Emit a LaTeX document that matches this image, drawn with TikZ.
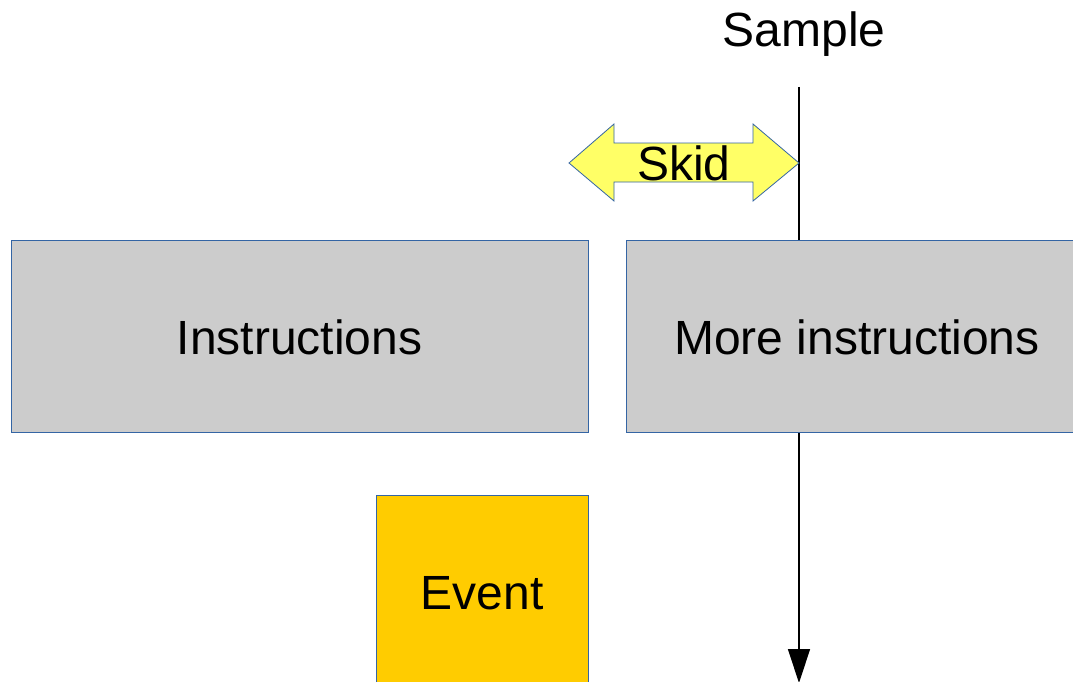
\documentclass[tikz,border=0pt]{standalone}
\usepackage{fontspec}
\setmainfont{Liberation Sans}
\usetikzlibrary{arrows.meta}
\definecolor{edgeblue}{HTML}{3465A4}
\definecolor{boxgrey}{HTML}{CCCCCC}
\definecolor{eventgold}{HTML}{FFCC00}
\definecolor{skidyellow}{HTML}{FFFF66}
\tikzset{
  lbl/.style={font=\fontsize{48}{57}\selectfont, text=black, inner sep=0pt},
  blockbox/.style={draw=edgeblue, line width=0.8pt, fill=boxgrey},
  eventbox/.style={draw=edgeblue, line width=0.8pt, fill=eventgold},
  timeline/.style={draw=black, line width=1.3pt, -{Triangle[length=34pt,width=22pt]}},
  skidshape/.style={draw=edgeblue, line width=0.8pt, fill=skidyellow, line join=miter}
}
\begin{document}
\begin{tikzpicture}[x=1pt, y=-1pt]
\clip (0,0) rectangle (1073,682);
\fill[white] (0,0) rectangle (1073,682);

% sampling time line (behind the blocks)
\coordinate (sTop) at (799,87);
\coordinate (sBot) at (799,683);
\draw[timeline] (sTop) -- (sBot);
\node[lbl] (sample) at (804,34) {Sample};

% skid double arrow
\draw[skidshape] (569,163) -- (614,124) -- (614,143) -- (753,143) -- (753,124)
  -- (799,163) -- (753,201) -- (753,182) -- (614,182) -- (614,201) -- cycle;
\node[lbl] (skid) at (684,163) {Skid};

% instruction blocks
\draw[blockbox] (11,240) rectangle (588,432);
\node[lbl] (instr) at (299.5,337) {Instructions};
\draw[blockbox] (626,240) rectangle (1088,432);
\node[lbl] (more) at (857,337) {More instructions};

% event block
\draw[eventbox] (376,495) rectangle (588,690);
\node[lbl] (event) at (482,593) {Event};
\end{tikzpicture}
\end{document}
